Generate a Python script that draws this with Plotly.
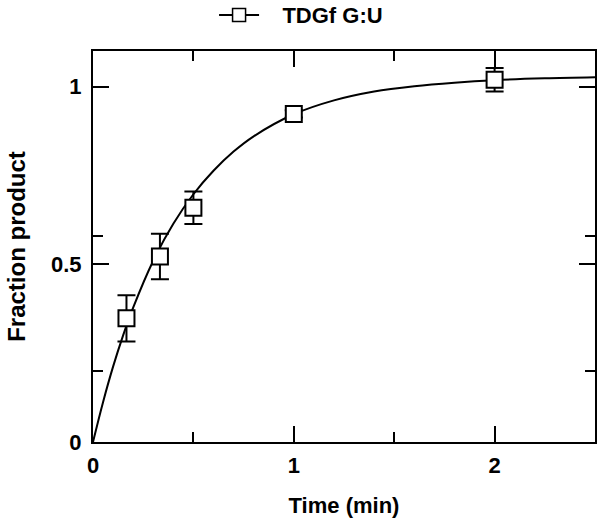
import plotly.graph_objects as go

# Data points (time in min, fraction product, error)
time_min = [0.1667, 0.3333, 0.5, 1.0, 2.0]
fraction = [0.348, 0.522, 0.659, 0.923, 1.019]
err = [0.065, 0.064, 0.046, 0.010, 0.033]

# Fitted curve
curve_t = [0, 0.05, 0.1, 0.15, 0.2, 0.3, 0.4, 0.5, 0.6, 0.7, 0.8, 1.0, 1.2, 1.4, 1.6, 1.8, 2.0, 2.25, 2.5]
curve_y = [0, 0.112, 0.212, 0.300, 0.378, 0.510, 0.614, 0.697, 0.763, 0.817, 0.860, 0.922, 0.961, 0.986, 1.001, 1.011, 1.018, 1.023, 1.026]

x_major = [0, 1, 2]
x_minor = [0.5, 1.5]
y_major = [0, 0.5, 1]
y_major_text = ["0", "0.5", "1"]
y_minor = [0.2, 0.58]

series_name = "\u00a0\u00a0\u00a0TDGf G:U"

FAM = "Liberation Sans, Arial, sans-serif"
bold = dict(family=FAM, size=22, color="black", weight="bold")
bold_y = dict(family=FAM, size=24, color="black", weight="bold")

fig = go.Figure()
fig.add_trace(go.Scatter(
    x=curve_t, y=curve_y, mode="lines", line=dict(color="black", width=2, shape="spline"),
    showlegend=False, hoverinfo="skip"))
fig.add_trace(go.Scatter(
    x=time_min, y=fraction, mode="markers",
    marker=dict(symbol="square", size=16, color="white", line=dict(color="black", width=2)),
    error_y=dict(type="data", array=err, color="black", thickness=2, width=9),
    showlegend=False))
fig.add_trace(go.Scatter(
    x=[None], y=[None], mode="lines+markers", name=series_name,
    line=dict(color="black", width=2),
    marker=dict(symbol="square", size=13, color="white", line=dict(color="black", width=1.5))))

fig.update_layout(
    width=603, height=520,
    margin=dict(l=93, r=8, t=51, b=78, autoexpand=False),
    plot_bgcolor="white", paper_bgcolor="white",
    font=bold,
    showlegend=True,
    legend=dict(orientation="h", xref="container", x=0.355, xanchor="left",
                yref="container", y=0.971, yanchor="middle",
                font=dict(family=FAM, size=22, color="black", weight="bold"),
                bgcolor="rgba(0,0,0,0)", itemwidth=40),
    xaxis=dict(range=[0, 2.5], showgrid=False, zeroline=False, automargin=False,
               showline=True, linecolor="black", linewidth=2, mirror="ticks",
               ticks="inside", ticklen=16, tickwidth=2, tickcolor="black",
               tickmode="array", tickvals=x_major, ticktext=[str(v) for v in x_major],
               minor=dict(tickmode="array", tickvals=x_minor, ticks="inside", ticklen=10,
                          tickwidth=2, tickcolor="black", showgrid=False),
               tickfont=bold, ticklabelstandoff=3,
               title=dict(text="Time (min)", font=bold, standoff=20)),
    yaxis=dict(range=[0, 1.1], showgrid=False, zeroline=False, automargin=False,
               showline=True, linecolor="black", linewidth=2, mirror="ticks",
               ticks="inside", ticklen=16, tickwidth=2, tickcolor="black",
               tickmode="array", tickvals=y_major, ticktext=y_major_text,
               minor=dict(tickmode="array", tickvals=y_minor, ticks="inside", ticklen=10,
                          tickwidth=2, tickcolor="black", showgrid=False),
               tickfont=bold, ticklabelstandoff=5,
               title=dict(text="Fraction product", font=bold_y, standoff=19)),
)

# Remove the default page margin so the 603x520 figure fills the window exactly
fig.write_html("out.html", config={"displayModeBar": False},
               post_script="document.body.style.margin='0';")
